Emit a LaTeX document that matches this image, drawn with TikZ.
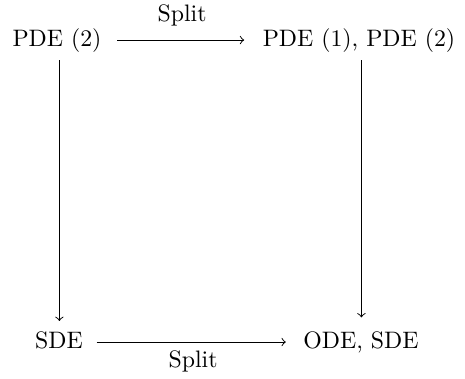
\documentclass[tikz,border=0pt]{standalone}
\begin{document}
\begin{tikzpicture}[x=0.42pt,y=-0.42pt,
  obj/.style={inner sep=0pt, anchor=base},
  arr/.style={->},
  lab/.style={inner sep=0pt, anchor=base}]
\useasboundingbox (0,0) rectangle (465,378);
\node[obj] (p2) at (57,46) {PDE (2)};
\node[obj] (p12) at (359,46) {PDE (1), PDE (2)};
\node[obj] (sde) at (59,348) {SDE};
\node[obj] (os) at (361,348) {ODE, SDE};
% top arrow
\draw[arr, shorten <=6.5pt, shorten >=7.6pt] ([yshift=2.5pt]p2.base east) -- ([yshift=2.5pt]p12.base west)
  node[lab, midway, yshift=7.6pt] (l1) {Split};
% bottom arrow
\draw[arr, shorten <=5.6pt, shorten >=7.2pt] ([yshift=2.5pt]sde.base east) -- ([yshift=2.5pt]os.base west)
  node[lab, midway, yshift=-10.8pt] (l2) {Split};
% verticals
\draw[arr, shorten <=3.2pt, shorten >=4.1pt] ([xshift=1pt]p2.south) -- ([xshift=1pt]p2.south |- sde.north);
\draw[arr, shorten <=3.2pt, shorten >=5.6pt] ([xshift=1pt]p12.south) -- ([xshift=1pt]p12.south |- os.north);
\end{tikzpicture}
\end{document}
